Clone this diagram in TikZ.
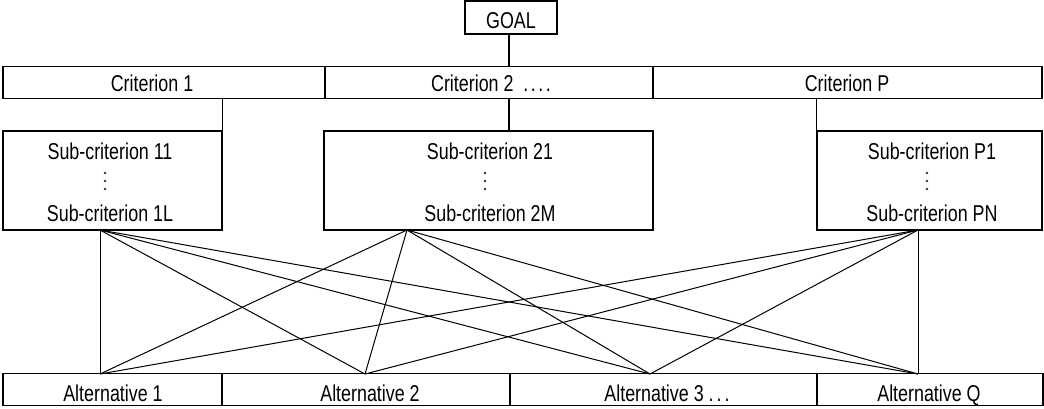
\documentclass[tikz,border=0pt]{standalone}
\usepackage{fontspec}
\setmainfont{Liberation Sans}[FakeStretch=0.78]
\begin{document}
\begin{tikzpicture}[x=1bp,y=-1bp,
  cell/.style={draw, line width=1.2bp, rectangle, inner sep=0pt},
  lbl/.style={inner sep=0pt, anchor=base, font=\fontsize{23}{25}\selectfont, text=black},
  conn/.style={line width=1bp},
  dotc/.style={fill=black!80}]
\useasboundingbox (0,0) rectangle (1044,408);
% GOAL
\node[cell, minimum width=92bp, minimum height=33bp] (goal) at (511,17.5) {};
\node[lbl] (goalt) at (511,28.5) {GOAL};
% Criteria row
\node[cell, minimum width=322bp, minimum height=31.6bp] (c1) at (164,82.5) {};
\node[cell, minimum width=328bp, minimum height=31.6bp] (c2) at (489,82.5) {};
\node[cell, minimum width=389bp, minimum height=31.6bp] (cP) at (847.5,82.5) {};
\node[lbl] (c1t) at (152,91) {Criterion 1};
\node[lbl] (c2t) at (491,91) {Criterion 2\ \ .\kern2.5bp.\kern2.5bp.\kern2.5bp.};
\node[lbl] (cPt) at (847,91) {Criterion P};
% Sub-criteria boxes
\node[cell, minimum width=219bp, minimum height=99bp] (s1) at (112.5,180.5) {};
\node[cell, minimum width=329bp, minimum height=99bp] (s2) at (488.5,180.5) {};
\node[cell, minimum width=225bp, minimum height=99bp] (sP) at (929.5,180.5) {};
\node[lbl] (s1a) at (110,159) {Sub-criterion 11};
\node[lbl] (s1z) at (110,221) {Sub-criterion 1L};
\node[lbl] (s2a) at (490,159) {Sub-criterion 21};
\node[lbl] (s2z) at (490,221) {Sub-criterion 2M};
\node[lbl] (sPa) at (932,159) {Sub-criterion P1};
\node[lbl] (sPz) at (932,221) {Sub-criterion PN};
\foreach \x in {105,485,927}{
  \foreach \y in {173,181,189}{
    \fill[dotc] (\x,\y) circle (1.3bp);
  }
}
% Alternatives row
\node[cell, minimum width=219bp, minimum height=31.5bp] (a1) at (112.5,389.5) {};
\node[cell, minimum width=288bp, minimum height=31.5bp] (a2) at (366,389.5) {};
\node[cell, minimum width=307bp, minimum height=31.5bp] (a3) at (663.5,389.5) {};
\node[cell, minimum width=226bp, minimum height=31.5bp] (aQ) at (930,389.5) {};
\node[lbl] (a1t) at (113,401) {Alternative 1};
\node[lbl] (a2t) at (370,401) {Alternative 2};
\node[lbl] (a3t) at (667,401) {Alternative 3 .\kern3bp.\kern3bp.};
\node[lbl] (aQt) at (929,401) {Alternative Q};
% connection points
\coordinate (g2) at (509,34);
\coordinate (p2) at (509,131);
\coordinate (p1) at (100,230);
\coordinate (p2b) at (407,230);
\coordinate (pPb) at (918,230);
\coordinate (q1) at (100,374);
\coordinate (q2) at (365,374);
\coordinate (q3) at (650,374);
\coordinate (qQ) at (918,374);
% hierarchy connectors
\draw[line width=1.2bp] (g2) -- (g2 |- c2.north);
\draw[line width=1.2bp] (s1.north east) -- (s1.north east |- c1.south);
\draw[line width=1.2bp] (p2) -- (p2 |- c2.south);
\draw[line width=1.2bp] (sP.north west) -- (sP.north west |- cP.south);
% bipartite connectors
\foreach \s in {p1,p2b,pPb}{
  \foreach \t in {q1,q2,q3,qQ}{
    \draw[conn] (\s) -- (\t);
  }
}
\end{tikzpicture}
\end{document}
